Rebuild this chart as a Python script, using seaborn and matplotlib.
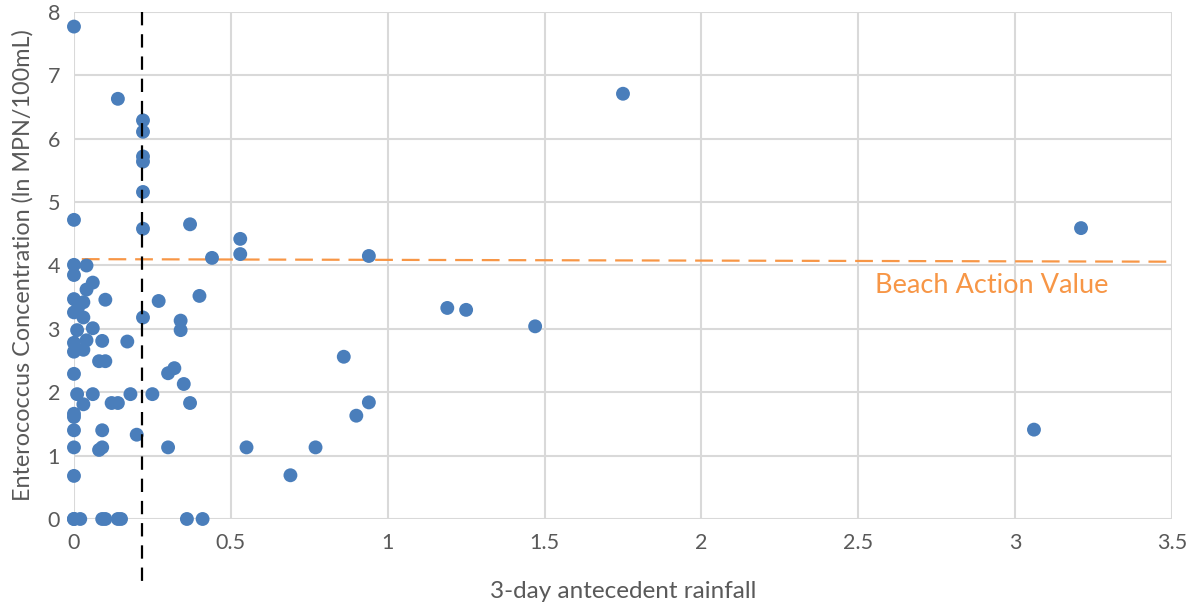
import matplotlib
matplotlib.use("Agg")
import matplotlib.pyplot as plt
import seaborn as sns
import pandas as pd

rain = [0, 0, 0, 0, 0, 0, 0, 0, 0, 0, 0, 0, 0, 0, 0, 0,
        0.014, 0.01, 0.01, 0.02,
        0.03, 0.03, 0.03, 0.03,
        0.04, 0.04, 0.04,
        0.06, 0.06, 0.06,
        0.08, 0.08,
        0.09, 0.09, 0.09, 0.09,
        0.10, 0.10, 0.10,
        0.12, 0.14, 0.14, 0.14, 0.15,
        0.17, 0.18, 0.20,
        0.22, 0.22, 0.22, 0.22, 0.22, 0.22, 0.22,
        0.25, 0.27, 0.30, 0.30, 0.32, 0.34, 0.34, 0.35, 0.36,
        0.37, 0.37, 0.40, 0.41, 0.44, 0.53, 0.53, 0.55,
        0.69, 0.77, 0.86, 0.90, 0.94, 0.94,
        1.19, 1.25, 1.47, 1.75, 3.06, 3.21]
entero = [7.77, 4.72, 4.01, 3.85, 3.47, 3.26, 2.78, 2.64, 2.29, 1.66, 1.61, 1.40, 1.13, 0.68, 0, 0,
          3.35, 2.98, 1.97, 0,
          3.42, 3.18, 2.67, 1.81,
          4.00, 3.62, 2.82,
          3.73, 3.01, 1.97,
          2.49, 1.09,
          2.81, 1.40, 1.13, 0,
          3.46, 2.49, 0,
          1.83, 6.63, 1.83, 0, 0,
          2.80, 1.97, 1.33,
          6.29, 6.11, 5.72, 5.64, 5.16, 4.58, 3.18,
          1.97, 3.44, 2.30, 1.13, 2.38, 3.13, 2.98, 2.13, 0,
          4.65, 1.83, 3.52, 0, 4.12, 4.42, 4.18, 1.13,
          0.69, 1.13, 2.56, 1.63, 4.15, 1.84,
          3.33, 3.30, 3.04, 6.71, 1.41, 4.59]

threshold_x = 0.217
bav_x = [0.025, 3.5]
bav_y = [4.10, 4.06]
bav_label = "Beach Action Value"
x_ticks = [0, 0.5, 1, 1.5, 2, 2.5, 3, 3.5]
x_tick_labels = ["0", "0.5", "1", "1.5", "2", "2.5", "3", "3.5"]
y_ticks = [0, 1, 2, 3, 4, 5, 6, 7, 8]

sns.set_theme(style="white")
plt.rcParams['font.family'] = ['Lato', 'DejaVu Sans']

fig = plt.figure(figsize=(11.93, 6.09), dpi=100)
ax = fig.add_axes([0.062, 0.1478, 0.9204, 0.8325])

df = pd.DataFrame({"rain": rain, "entero": entero})
sns.scatterplot(data=df, x="rain", y="entero", ax=ax, color="#4a7ebb",
                s=100, edgecolor="none", zorder=3, clip_on=False)

ax.plot(bav_x, bav_y, color="#f79646", lw=1.6, dashes=(8, 4), zorder=2)
ax.text(2.553, 3.69, bav_label, color="#f79646", fontsize=19.5, va="center", ha="left")

ax.plot([threshold_x, threshold_x], [8, -1.09], color="black", lw=1.6,
        dashes=(6, 4), clip_on=False, zorder=4)

ax.set_xlim(0, 3.5)
ax.set_ylim(0, 8)
ax.set_xticks(x_ticks)
ax.set_xticklabels(x_tick_labels)
ax.set_yticks(y_ticks)
ax.grid(True, color="#d9d9d9", lw=1.5, zorder=0)
ax.set_axisbelow(True)
for s in ax.spines.values():
    s.set_visible(False)
ax.tick_params(axis="both", colors="#595959", labelsize=15.5, length=0, pad=10)
ax.set_xlabel("3-day antecedent rainfall", color="#595959", fontsize=17.5, labelpad=20)
ax.set_ylabel("Enterococcus Concentration (ln MPN/100mL)", color="#595959", fontsize=16.8, labelpad=10)

fig.savefig("out.png", dpi=100)
